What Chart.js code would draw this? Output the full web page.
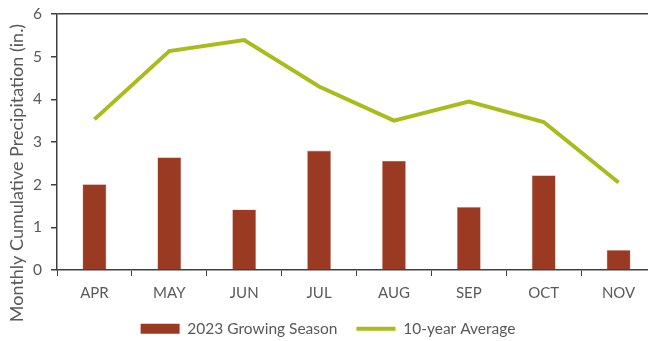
<!DOCTYPE html>
<html>
<head>
<meta charset="utf-8">
<script src="https://cdn.jsdelivr.net/npm/chart.js@4"></script>
<style>
  html, body { margin: 0; padding: 0; background: #fff; overflow: hidden; }
  #wrap { width: 656px; height: 341px; }
</style>
</head>
<body>
<div id="wrap"><canvas id="myChart"></canvas></div>
<script>
const months = ['APR', 'MAY', 'JUN', 'JUL', 'AUG', 'SEP', 'OCT', 'NOV'];
const season2023 = [2.01, 2.64, 1.42, 2.80, 2.56, 1.48, 2.22, 0.47];
const tenYearAvg = [3.53, 5.13, 5.39, 4.30, 3.50, 3.95, 3.47, 2.05];
const yTicks = [0, 1, 2, 3, 4, 5, 6];

const textColor = '#595959';
const axisColor = '#404040';
const font = 'Lato, Carlito, "Open Sans", sans-serif';
const yTitleText = 'Monthly Cumulative Precipitation (in.)';

// y axis title is drawn by hand so it can hang lower than the axis itself
const yTitle = {
  id: 'yTitle',
  afterDraw(chart) {
    const ctx = chart.ctx;
    ctx.save();
    ctx.translate(17, 173);
    ctx.rotate(-Math.PI / 2);
    ctx.font = '18px ' + font;
    ctx.fillStyle = textColor;
    ctx.textAlign = 'center';
    ctx.textBaseline = 'middle';
    ctx.fillText(yTitleText, 0, 0);
    ctx.restore();
  }
};

const data = {
  labels: months,
  datasets: [{
    type: 'line',
    label: '10-year Average',
    data: tenYearAvg,
    borderColor: '#A9BC1C',
    backgroundColor: '#A9BC1C',
    borderWidth: 4,
    pointRadius: 0,
    tension: 0,
    order: 1
  }, {
    type: 'bar',
    label: '2023 Growing Season',
    data: season2023,
    backgroundColor: '#9B3A23',
    borderColor: '#D9A595',
    borderWidth: 0.6,
    barPercentage: 0.64,
    categoryPercentage: 0.5,
    order: 2
  }]
};

const config = {
  data: data,
  plugins: [yTitle],
  options: {
    responsive: true,
    maintainAspectRatio: false,
    animation: false,
    layout: { padding: { top: 0, left: 0, right: 0, bottom: 0 } },
    plugins: {
      tooltip: { enabled: false },
      legend: {
        position: 'bottom',
        reverse: true,
        maxHeight: 39,
        labels: {
          usePointStyle: true,
          pointStyleWidth: 39,
          boxHeight: 10,
          padding: 19,
          color: textColor,
          font: { family: font, size: 15.5 },
          generateLabels(chart) {
            const items = Chart.defaults.plugins.legend.labels.generateLabels(chart);
            items.forEach(it => {
              const ds = chart.data.datasets[it.datasetIndex];
              if (ds.type === 'line') {
                it.pointStyle = 'line';
                it.lineWidth = 4;
                it.strokeStyle = ds.borderColor;
              } else {
                it.pointStyle = 'rect';
                it.lineWidth = 0;
              }
            });
            return items;
          }
        }
      }
    },
    scales: {
      x: {
        offset: true,
        grid: {
          offset: true,
          drawOnChartArea: false,
          color: axisColor,
          tickLength: 6
        },
        border: { color: axisColor, width: 1.5 },
        ticks: { color: textColor, font: { family: font, size: 15 }, padding: 8 },
        afterFit(scale) {
          scale.height = 32;
        }
      },
      y: {
        min: 0,
        max: 6,
        afterBuildTicks(scale) {
          scale.ticks = yTicks.map(v => ({ value: v }));
        },
        afterFit(scale) {
          scale.width = 57;
          scale.paddingTop = 14;
        },
        grid: {
          // only the top line of the frame is drawn across the plot
          color: ctx => ctx.tick && ctx.tick.value === 6 ? axisColor : 'rgba(0,0,0,0)',
          lineWidth: 1.5,
          tickLength: 6,
          tickColor: axisColor
        },
        border: { color: axisColor, width: 1.5 },
        ticks: { color: textColor, font: { family: font, size: 15.5 }, padding: 9 }
      }
    }
  }
};

const myChart = new Chart(
  document.getElementById('myChart'),
  config
);
</script>
</body>
</html>
